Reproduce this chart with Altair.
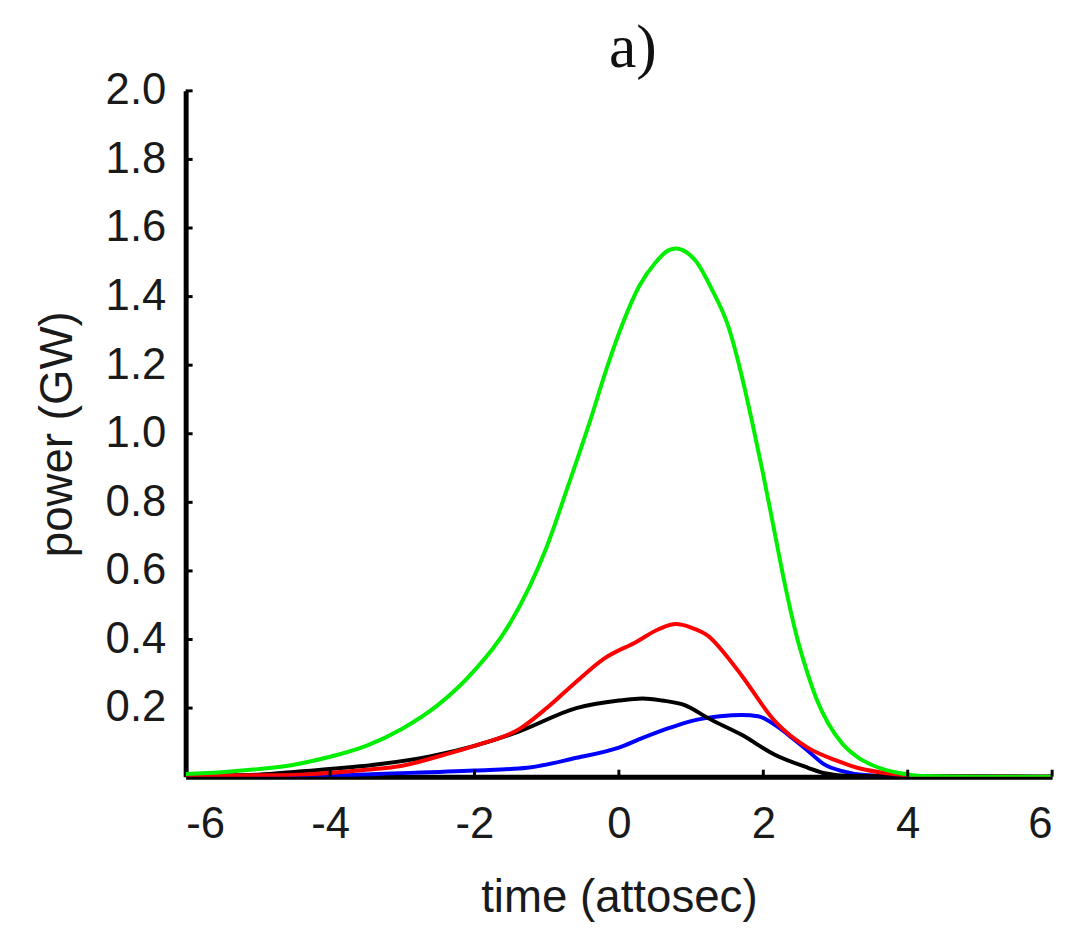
import altair as alt
import pandas as pd

# ---- data ----
green_t = [-6.0, -5.5, -5.0, -4.5, -4.0, -3.5, -3.0, -2.5, -2.0, -1.5, -1.0, -0.7, -0.41, -0.17,
           0.05, 0.28, 0.51, 0.65, 0.79, 0.93, 1.06, 1.29, 1.52, 1.7, 1.85, 2.0, 2.15, 2.3, 2.45,
           2.6, 2.75, 2.9, 3.1, 3.3, 3.6, 3.9, 4.2, 5.0, 6.0]
green_p = [0.008, 0.013, 0.022, 0.035, 0.058, 0.09, 0.14, 0.21, 0.31, 0.45, 0.67, 0.85, 1.03, 1.19,
           1.32, 1.43, 1.50, 1.53, 1.54, 1.53, 1.505, 1.42, 1.31, 1.17, 1.03, 0.88, 0.72, 0.56, 0.42,
           0.31, 0.22, 0.155, 0.095, 0.058, 0.026, 0.01, 0.002, 0.0, 0.0]

red_t = [-6.0, -5.0, -4.43, -3.5, -3.0, -2.42, -2.0, -1.37, -1.0, -0.59, -0.2, 0.24, 0.55, 0.79,
         1.0, 1.24, 1.5, 1.7, 2.16, 2.62, 3.0, 3.3, 3.87, 4.2, 6.0]
red_p = [0.002, 0.004, 0.006, 0.02, 0.032, 0.064, 0.09, 0.14, 0.2, 0.277, 0.345, 0.393, 0.43, 0.445,
         0.435, 0.41, 0.35, 0.295, 0.162, 0.084, 0.048, 0.026, 0.006, 0.0, 0.0]

black_t = [-6.0, -5.0, -4.43, -3.33, -2.6, -2.0, -1.37, -0.59, 0.0, 0.33, 0.6, 0.92, 1.24, 1.7,
           2.16, 2.62, 2.85, 3.2, 6.0]
black_p = [0.003, 0.006, 0.015, 0.036, 0.06, 0.09, 0.133, 0.2, 0.222, 0.228, 0.222, 0.208, 0.17, 0.122,
           0.064, 0.026, 0.01, 0.002, 0.0]

blue_t = [-6.0, -4.0, -3.33, -2.0, -1.27, -0.59, 0.0, 0.33, 0.7, 1.0, 1.4, 1.7, 1.93, 2.2, 2.4,
          2.62, 2.85, 3.08, 3.4, 4.0, 6.0]
blue_p = [0.0, 0.003, 0.008, 0.018, 0.026, 0.055, 0.085, 0.113, 0.142, 0.162, 0.176, 0.18, 0.176, 0.145, 0.113,
          0.075, 0.035, 0.017, 0.005, 0.0, 0.0]

x_ticks = [-6, -4, -2, 0, 2, 4, 6]
y_ticks = [0.2, 0.4, 0.6, 0.8, 1.0, 1.2, 1.4, 1.6, 1.8, 2.0]

W, H = 873, 691

xscale = alt.Scale(domain=[-6, 6], nice=False, zero=False)
yscale = alt.Scale(domain=[0, 2], nice=False)

xaxis = alt.Axis(values=x_ticks, title="time (attosec)", labelExpr="'' + datum.value",
                 labelPadding=26, titlePadding=30)
yaxis = alt.Axis(values=y_ticks, title="power (GW)", format=".1f", labelPadding=20,
                 titlePadding=24)


def series(ts, ps, color):
    df = pd.DataFrame({"t": ts, "p": ps})
    return alt.Chart(df).mark_line(color=color, strokeWidth=4, interpolate="monotone",
                                   clip=True).encode(
        x=alt.X("t:Q", scale=xscale, axis=xaxis),
        y=alt.Y("p:Q", scale=yscale, axis=yaxis))


ytick_df = pd.DataFrame({"p": y_ticks})
xtick_df = pd.DataFrame({"t": x_ticks[1:]})

yticks = alt.Chart(ytick_df).mark_rule(color="black", strokeWidth=3).encode(
    y=alt.Y("p:Q", scale=yscale, axis=yaxis), x=alt.value(0), x2=alt.value(7))
xticks = alt.Chart(xtick_df).mark_rule(color="black", strokeWidth=3).encode(
    x=alt.X("t:Q", scale=xscale, axis=xaxis), y=alt.value(H), y2=alt.value(H - 7))

chart = alt.layer(
    series(blue_t, blue_p, "#0000ff"),
    series(black_t, black_p, "#000000"),
    series(red_t, red_p, "#ff0000"),
    series(green_t, green_p, "#00ee00"),
    yticks,
    xticks,
).properties(
    width=W, height=H,
    autosize="none",
    padding={"left": 179, "top": 80, "right": 16, "bottom": 149},
    title=alt.Title("a)", font="Liberation Serif", fontSize=62, fontWeight="normal",
                    color="#111", anchor="middle", dx=14, offset=-11),
).configure_view(stroke=None).configure_axis(
    grid=False, ticks=False, domainColor="black", domainWidth=5,
    labelFont="Liberation Sans", labelFontSize=44, labelColor="#1a1a1a",
    titleFont="Liberation Sans", titleFontSize=46, titleFontWeight="normal", titleColor="#1a1a1a",
)

chart.save("out.html", embed_options={"renderer": "svg", "actions": False})
